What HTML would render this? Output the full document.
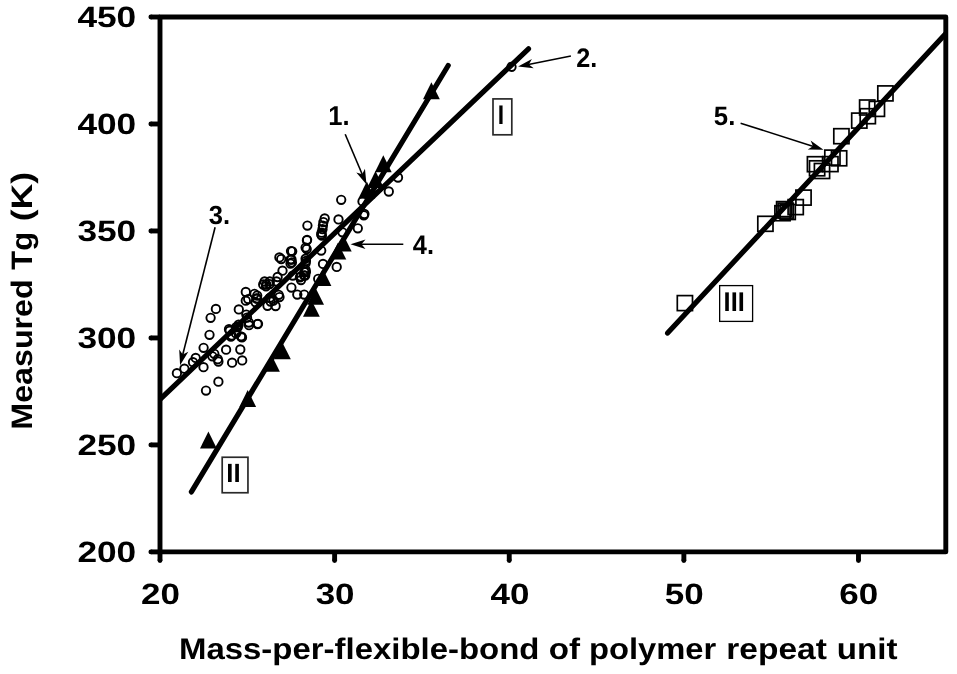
<!DOCTYPE html>
<html><head><meta charset="utf-8"><style>html,body{margin:0;padding:0;background:#fff;}svg{display:block;will-change:transform}</style></head>
<body><svg width="957" height="674" viewBox="0 0 957 674">
<rect width="957" height="674" fill="#fff"/>
<defs><clipPath id="pa"><rect x="160.0" y="17.0" width="785.8" height="534.9"/></clipPath></defs>
<g clip-path="url(#pa)">
<line x1="158" y1="401.2" x2="528.5" y2="48.8" stroke="#000" stroke-width="5.2" stroke-linecap="round"/>
<line x1="191.4" y1="491.9" x2="448.2" y2="65.5" stroke="#000" stroke-width="5.2" stroke-linecap="round"/>
<line x1="667.6" y1="333.1" x2="948" y2="31.2" stroke="#000" stroke-width="5.2" stroke-linecap="round"/>

</g>
<g fill="none" stroke="#000" stroke-width="1.9">
<circle cx="176.9" cy="373.2" r="4.2"/>
<circle cx="184.4" cy="368.7" r="4.2"/>
<circle cx="193" cy="362.2" r="4.2"/>
<circle cx="195.7" cy="357.9" r="4.2"/>
<circle cx="203.6" cy="347.8" r="4.2"/>
<circle cx="209.5" cy="334.8" r="4.2"/>
<circle cx="210.6" cy="317.8" r="4.2"/>
<circle cx="215.9" cy="308.9" r="4.2"/>
<circle cx="203.5" cy="367.2" r="4.2"/>
<circle cx="218.4" cy="381.7" r="4.2"/>
<circle cx="206" cy="390.6" r="4.2"/>
<circle cx="214.3" cy="353.8" r="4.2"/>
<circle cx="217.8" cy="359.2" r="4.2"/>
<circle cx="218.4" cy="361.5" r="4.2"/>
<circle cx="226.1" cy="349.7" r="4.2"/>
<circle cx="232.1" cy="362.7" r="4.2"/>
<circle cx="240.3" cy="349.5" r="4.2"/>
<circle cx="242.2" cy="360.4" r="4.2"/>
<circle cx="212.4" cy="356.3" r="4.2"/>
<circle cx="229.7" cy="330.7" r="4.2"/>
<circle cx="230.9" cy="336.6" r="4.2"/>
<circle cx="236.2" cy="327.1" r="4.2"/>
<circle cx="241" cy="336.6" r="4.2"/>
<circle cx="238.6" cy="324.7" r="4.2"/>
<circle cx="238.8" cy="309.4" r="4.2"/>
<circle cx="245.8" cy="292" r="4.2"/>
<circle cx="245.8" cy="300.7" r="4.2"/>
<circle cx="248.2" cy="299.1" r="4.2"/>
<circle cx="254.5" cy="293.8" r="4.2"/>
<circle cx="256.5" cy="298.7" r="4.2"/>
<circle cx="255.6" cy="302.3" r="4.2"/>
<circle cx="246.3" cy="314.6" r="4.2"/>
<circle cx="247" cy="317.6" r="4.2"/>
<circle cx="248.8" cy="322.5" r="4.2"/>
<circle cx="249" cy="325.2" r="4.2"/>
<circle cx="257.5" cy="324.1" r="4.2"/>
<circle cx="237.8" cy="327" r="4.2"/>
<circle cx="229" cy="329.2" r="4.2"/>
<circle cx="241.4" cy="336.6" r="4.2"/>
<circle cx="236" cy="333.4" r="4.2"/>
<circle cx="231.8" cy="335.6" r="4.2"/>
<circle cx="242" cy="337.4" r="4.2"/>
<circle cx="267.5" cy="305.8" r="4.2"/>
<circle cx="275.6" cy="306" r="4.2"/>
<circle cx="278.7" cy="294.8" r="4.2"/>
<circle cx="279.5" cy="297.1" r="4.2"/>
<circle cx="273.4" cy="300.5" r="4.2"/>
<circle cx="270.6" cy="301.5" r="4.2"/>
<circle cx="269.8" cy="297.8" r="4.2"/>
<circle cx="257.2" cy="295.6" r="4.2"/>
<circle cx="257.2" cy="298.5" r="4.2"/>
<circle cx="258" cy="323.8" r="4.2"/>
<circle cx="264.6" cy="281.5" r="4.2"/>
<circle cx="269.8" cy="281.5" r="4.2"/>
<circle cx="276.5" cy="281.5" r="4.2"/>
<circle cx="263.2" cy="284.5" r="4.2"/>
<circle cx="266.3" cy="284.5" r="4.2"/>
<circle cx="266" cy="286.3" r="4.2"/>
<circle cx="269.6" cy="284.1" r="4.2"/>
<circle cx="291" cy="251.1" r="4.2"/>
<circle cx="279.4" cy="257.4" r="4.2"/>
<circle cx="281.2" cy="259.1" r="4.2"/>
<circle cx="290.5" cy="259.6" r="4.2"/>
<circle cx="290.5" cy="263.6" r="4.2"/>
<circle cx="282.5" cy="270.7" r="4.2"/>
<circle cx="277.6" cy="277" r="4.2"/>
<circle cx="291.4" cy="287.6" r="4.2"/>
<circle cx="297.3" cy="294.6" r="4.2"/>
<circle cx="304.2" cy="294.6" r="4.2"/>
<circle cx="299.9" cy="277.4" r="4.2"/>
<circle cx="304.3" cy="272.1" r="4.2"/>
<circle cx="305.2" cy="275.6" r="4.2"/>
<circle cx="292.7" cy="275.6" r="4.2"/>
<circle cx="307.1" cy="239.8" r="4.2"/>
<circle cx="305.6" cy="247.6" r="4.2"/>
<circle cx="306.7" cy="249.1" r="4.2"/>
<circle cx="321.2" cy="250.6" r="4.2"/>
<circle cx="292.2" cy="251.3" r="4.2"/>
<circle cx="291.5" cy="259.5" r="4.2"/>
<circle cx="291.9" cy="262.4" r="4.2"/>
<circle cx="305.6" cy="258.7" r="4.2"/>
<circle cx="305.9" cy="261" r="4.2"/>
<circle cx="305.6" cy="263.2" r="4.2"/>
<circle cx="305.6" cy="269.9" r="4.2"/>
<circle cx="305.9" cy="272.1" r="4.2"/>
<circle cx="300.8" cy="276.5" r="4.2"/>
<circle cx="304.1" cy="275.4" r="4.2"/>
<circle cx="323" cy="263.9" r="4.2"/>
<circle cx="336.7" cy="266.9" r="4.2"/>
<circle cx="321.9" cy="235.7" r="4.2"/>
<circle cx="318.2" cy="278.8" r="4.2"/>
<circle cx="301" cy="280" r="4.2"/>
<circle cx="341.2" cy="199.8" r="4.2"/>
<circle cx="338.5" cy="219.4" r="4.2"/>
<circle cx="324.7" cy="218.5" r="4.2"/>
<circle cx="323.4" cy="222.1" r="4.2"/>
<circle cx="322.9" cy="225.6" r="4.2"/>
<circle cx="322.5" cy="229.2" r="4.2"/>
<circle cx="321.6" cy="232.7" r="4.2"/>
<circle cx="321.2" cy="234.5" r="4.2"/>
<circle cx="307.4" cy="225.6" r="4.2"/>
<circle cx="306.9" cy="240.3" r="4.2"/>
<circle cx="342.5" cy="232.3" r="4.2"/>
<circle cx="363.8" cy="215.3" r="4.2"/>
<circle cx="357.8" cy="228.3" r="4.2"/>
<circle cx="398" cy="177.5" r="4.2"/>
<circle cx="388.8" cy="191.5" r="4.2"/>
<circle cx="362.5" cy="201.4" r="4.2"/>
<circle cx="364.4" cy="214" r="4.2"/>
<circle cx="511.5" cy="66.8" r="4.2"/>
</g>
<g fill="none" stroke="#000" stroke-width="1.7">
<rect x="677.3" y="295.6" width="15.2" height="15" />
<rect x="757.8" y="216.3" width="15.2" height="15" />
<rect x="774.9" y="205.7" width="15.2" height="15" />
<rect x="776.6" y="201.6" width="15.2" height="15" />
<rect x="778.1" y="203.1" width="15.2" height="15" />
<rect x="780.1" y="204.5" width="15.2" height="15" />
<rect x="788.1" y="199.6" width="15.2" height="15" />
<rect x="795.9" y="190.1" width="15.2" height="15" />
<rect x="807.4" y="156.7" width="15.2" height="15" />
<rect x="809.5" y="160.8" width="15.2" height="15" />
<rect x="814.4" y="163.5" width="15.2" height="15" />
<rect x="822.8" y="156.6" width="15.2" height="15" />
<rect x="824.8" y="150.1" width="15.2" height="15" />
<rect x="831.5" y="150.8" width="15.2" height="15" />
<rect x="833.8" y="128.7" width="15.2" height="15" />
<rect x="851.7" y="113.1" width="15.2" height="15" />
<rect x="859.6" y="100.0" width="15.2" height="15" />
<rect x="860.2" y="108.7" width="15.2" height="15" />
<rect x="869.3" y="101.4" width="15.2" height="15" />
<rect x="877.8" y="85.9" width="15.2" height="15" />
</g>
<g fill="#000">
<polygon points="208.4,431.6 216.8,448.4 200.0,448.4"/>
<polygon points="247.7,390.1 256.1,406.9 239.3,406.9"/>
<polygon points="271.5,354.9 279.9,371.8 263.1,371.8"/>
<polygon points="282.4,342.4 290.8,359.3 274.0,359.3"/>
<polygon points="311.4,299.9 319.8,316.8 303.0,316.8"/>
<polygon points="315.6,287.9 324.0,304.8 307.2,304.8"/>
<polygon points="323.0,269.1 331.4,285.9 314.6,285.9"/>
<polygon points="337.9,242.8 346.3,259.6 329.5,259.6"/>
<polygon points="343.3,234.8 351.7,251.6 334.9,251.6"/>
<polygon points="366.8,181.6 375.2,198.4 358.4,198.4"/>
<polygon points="375.5,171.1 383.9,187.9 367.1,187.9"/>
<polygon points="383.3,155.3 391.7,172.2 374.9,172.2"/>
<polygon points="431.4,82.3 439.8,99.2 423.0,99.2"/>
</g>
<g fill="#000">
<line x1="345.2" y1="134.3" x2="362.39" y2="174.80" stroke="#000" stroke-width="1.6"/><polygon points="366.50,184.46 356.31,172.49 362.20,174.33 364.96,168.82"/>
<line x1="570.9" y1="56.0" x2="528.40" y2="64.53" stroke="#000" stroke-width="1.6"/><polygon points="518.11,66.60 531.89,59.04 528.89,64.43 533.74,68.25"/>
<line x1="215.1" y1="227.3" x2="182.66" y2="355.01" stroke="#000" stroke-width="1.6"/><polygon points="180.08,365.18 179.21,349.49 182.78,354.52 188.33,351.80"/>
<line x1="403.3" y1="244.2" x2="361.00" y2="244.20" stroke="#000" stroke-width="1.6"/><polygon points="350.50,244.20 365.50,239.50 361.50,244.20 365.50,248.90"/>
<line x1="740.6" y1="123.2" x2="813.47" y2="146.46" stroke="#000" stroke-width="1.6"/><polygon points="823.48,149.65 807.76,149.57 813.00,146.31 810.62,140.61"/>
</g>
<rect x="493.0" y="98.9" width="18.8" height="35.9" fill="none" stroke="#2a2a2a" stroke-width="1.7"/>
<rect x="222.2" y="457.25" width="25.75" height="35.5" fill="none" stroke="#2a2a2a" stroke-width="1.7"/>
<rect x="719.65" y="285.6" width="32.95" height="35.8" fill="none" stroke="#000" stroke-width="1.3"/>
<g stroke="#000" stroke-width="4.9" stroke-linecap="round" fill="none">
<rect x="160.0" y="17.0" width="785.8" height="534.9" stroke-linejoin="round"/>
<path d="M160.0 551.90H150.9" stroke-linecap="butt"/><circle cx="150.9" cy="551.90" r="2.45" fill="#000" stroke="none"/>
<path d="M160.0 444.92H150.9" stroke-linecap="butt"/><circle cx="150.9" cy="444.92" r="2.45" fill="#000" stroke="none"/>
<path d="M160.0 337.94H150.9" stroke-linecap="butt"/><circle cx="150.9" cy="337.94" r="2.45" fill="#000" stroke="none"/>
<path d="M160.0 230.96H150.9" stroke-linecap="butt"/><circle cx="150.9" cy="230.96" r="2.45" fill="#000" stroke="none"/>
<path d="M160.0 123.98H150.9" stroke-linecap="butt"/><circle cx="150.9" cy="123.98" r="2.45" fill="#000" stroke="none"/>
<path d="M160.0 17.00H150.9" stroke-linecap="butt"/><circle cx="150.9" cy="17.00" r="2.45" fill="#000" stroke="none"/>
<path d="M160.00 551.9V560.5" stroke-linecap="butt"/><circle cx="160.00" cy="560.5" r="2.45" fill="#000" stroke="none"/>
<path d="M334.62 551.9V560.5" stroke-linecap="butt"/><circle cx="334.62" cy="560.5" r="2.45" fill="#000" stroke="none"/>
<path d="M509.24 551.9V560.5" stroke-linecap="butt"/><circle cx="509.24" cy="560.5" r="2.45" fill="#000" stroke="none"/>
<path d="M683.87 551.9V560.5" stroke-linecap="butt"/><circle cx="683.87" cy="560.5" r="2.45" fill="#000" stroke="none"/>
<path d="M858.49 551.9V560.5" stroke-linecap="butt"/><circle cx="858.49" cy="560.5" r="2.45" fill="#000" stroke="none"/>
</g>
<g fill="#000">
<text transform="translate(77.39,561.90) scale(1.2000,1)" font-size="29.40" font-family="Liberation Sans, sans-serif" font-weight="bold" text-rendering="geometricPrecision">200</text>
<text transform="translate(77.39,454.92) scale(1.2000,1)" font-size="29.40" font-family="Liberation Sans, sans-serif" font-weight="bold" text-rendering="geometricPrecision">250</text>
<text transform="translate(77.39,347.94) scale(1.2000,1)" font-size="29.40" font-family="Liberation Sans, sans-serif" font-weight="bold" text-rendering="geometricPrecision">300</text>
<text transform="translate(77.39,240.96) scale(1.2000,1)" font-size="29.40" font-family="Liberation Sans, sans-serif" font-weight="bold" text-rendering="geometricPrecision">350</text>
<text transform="translate(77.39,133.98) scale(1.2000,1)" font-size="29.40" font-family="Liberation Sans, sans-serif" font-weight="bold" text-rendering="geometricPrecision">400</text>
<text transform="translate(77.39,27.00) scale(1.2000,1)" font-size="29.40" font-family="Liberation Sans, sans-serif" font-weight="bold" text-rendering="geometricPrecision">450</text>
<text transform="translate(140.96,603.50) scale(1.1900,1)" font-size="29.40" font-family="Liberation Sans, sans-serif" font-weight="bold" text-rendering="geometricPrecision">20</text>
<text transform="translate(315.66,603.50) scale(1.1900,1)" font-size="29.40" font-family="Liberation Sans, sans-serif" font-weight="bold" text-rendering="geometricPrecision">30</text>
<text transform="translate(490.46,603.50) scale(1.1900,1)" font-size="29.40" font-family="Liberation Sans, sans-serif" font-weight="bold" text-rendering="geometricPrecision">40</text>
<text transform="translate(664.82,603.50) scale(1.1900,1)" font-size="29.40" font-family="Liberation Sans, sans-serif" font-weight="bold" text-rendering="geometricPrecision">50</text>
<text transform="translate(839.33,603.50) scale(1.1900,1)" font-size="29.40" font-family="Liberation Sans, sans-serif" font-weight="bold" text-rendering="geometricPrecision">60</text>
<text transform="translate(179.00,658.70) scale(1.1051,1)" font-size="29.80" font-family="Liberation Sans, sans-serif" font-weight="bold" text-rendering="geometricPrecision">Mass-per-flexible-bond</text>
<text transform="translate(548.80,658.70) scale(1.1116,1)" font-size="29.80" font-family="Liberation Sans, sans-serif" font-weight="bold" text-rendering="geometricPrecision">of</text>
<text transform="translate(588.92,658.70) scale(1.0982,1)" font-size="29.80" font-family="Liberation Sans, sans-serif" font-weight="bold" text-rendering="geometricPrecision">polymer</text>
<text transform="translate(726.27,658.70) scale(1.1249,1)" font-size="29.80" font-family="Liberation Sans, sans-serif" font-weight="bold" text-rendering="geometricPrecision">repeat</text>
<text transform="translate(836.81,658.70) scale(1.1111,1)" font-size="29.80" font-family="Liberation Sans, sans-serif" font-weight="bold" text-rendering="geometricPrecision">unit</text>
<text transform="translate(31.50,429.66) rotate(-90) scale(1.0883,1)" font-size="29.60" font-family="Liberation Sans, sans-serif" font-weight="bold" text-rendering="geometricPrecision">Measured</text>
<text transform="translate(31.50,269.71) rotate(-90) scale(1.0461,1)" font-size="29.60" font-family="Liberation Sans, sans-serif" font-weight="bold" text-rendering="geometricPrecision">Tg</text>
<text transform="translate(31.50,221.28) rotate(-90) scale(1.2047,1)" font-size="29.60" font-family="Liberation Sans, sans-serif" font-weight="bold" text-rendering="geometricPrecision">(K)</text>
<text transform="translate(328.37,124.90) scale(0.9335,1)" font-size="27.39" font-family="Liberation Sans, sans-serif" font-weight="bold" text-rendering="geometricPrecision">1.</text>
<text transform="translate(576.14,66.50) scale(0.9435,1)" font-size="26.71" font-family="Liberation Sans, sans-serif" font-weight="bold" text-rendering="geometricPrecision">2.</text>
<text transform="translate(208.85,223.78) scale(0.9746,1)" font-size="26.25" font-family="Liberation Sans, sans-serif" font-weight="bold" text-rendering="geometricPrecision">3.</text>
<text transform="translate(412.81,253.70) scale(0.9465,1)" font-size="26.81" font-family="Liberation Sans, sans-serif" font-weight="bold" text-rendering="geometricPrecision">4.</text>
<text transform="translate(713.83,125.34) scale(0.9744,1)" font-size="26.43" font-family="Liberation Sans, sans-serif" font-weight="bold" text-rendering="geometricPrecision">5.</text>
<text transform="translate(497.77,123.80) scale(0.8499,1)" font-size="26.96" font-family="Liberation Sans, sans-serif" font-weight="bold" text-rendering="geometricPrecision">I</text>
<text transform="translate(226.28,482.00) scale(0.9767,1)" font-size="26.38" font-family="Liberation Sans, sans-serif" font-weight="bold" text-rendering="geometricPrecision">II</text>
<text transform="translate(723.61,310.70) scale(0.9341,1)" font-size="27.10" font-family="Liberation Sans, sans-serif" font-weight="bold" text-rendering="geometricPrecision">III</text>
</g>
</svg></body></html>
